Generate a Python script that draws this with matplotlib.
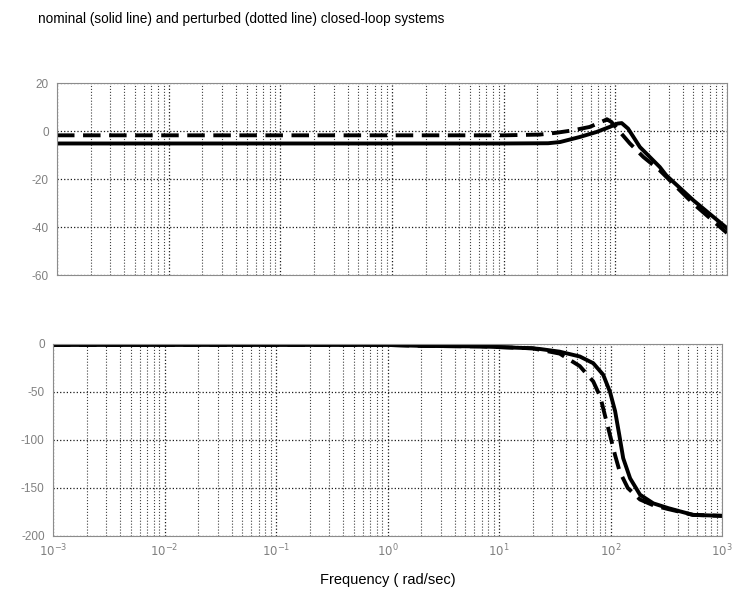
import numpy as np
import matplotlib
matplotlib.use("Agg")
import matplotlib.pyplot as plt
from matplotlib.ticker import LogLocator, NullFormatter

plt.rcParams['font.family'] = ['Liberation Sans', 'DejaVu Sans']
plt.rcParams['axes.unicode_minus'] = False

# ---- data ----
mag_nom_w = [1e-3, 1e-1, 10, 25, 32, 48, 68, 89, 105, 114, 130, 166, 250, 286, 500, 1000]
mag_nom_db = [-5.2, -5.2, -5.2, -5.1, -4.6, -2.5, -0.4, 1.7, 3.1, 3.3, 1.0, -6.7, -15.0, -18.5, -28.9, -40.5]

mag_pert_w = [1e-3, 1e-1, 10, 21, 30, 42, 59, 81, 84, 92, 110, 135, 178, 250, 500, 1000]
mag_pert_db = [-1.8, -1.8, -1.8, -1.5, -0.7, 0.3, 1.7, 4.5, 4.9, 3.8, -0.4, -5.2, -10.8, -16.4, -30.3, -42.5]

ph_nom_w = [1e-3, 1, 2.1, 6.8, 20, 23.3, 35, 53, 70, 86, 99, 110, 120, 130, 150, 184, 242, 330, 550, 1000]
ph_nom_deg = [-1, -1, -2, -2.5, -4.5, -5.2, -8, -13, -20, -32, -50, -70, -95, -119, -140, -157, -166, -171, -178, -179]

ph_pert_w = [1e-3, 1, 2.1, 6.8, 20, 35, 53, 70, 81, 89, 99, 110, 121, 143, 184, 242, 330, 550, 1000]
ph_pert_deg = [-1, -1, -2, -2.5, -4.5, -10, -23, -39, -55, -74, -95, -116, -133, -150, -162, -168, -172, -178, -179]

mag_ticks = [20, 0, -20, -40, -60]
ph_ticks = [0, -50, -100, -150, -200]
freq_ticks = [1e-3, 1e-2, 1e-1, 1e0, 1e1, 1e2, 1e3]
freq_labels = [r'$10^{-3}$', r'$10^{-2}$', r'$10^{-1}$', r'$10^{0}$', r'$10^{1}$', r'$10^{2}$', r'$10^{3}$']

title = 'nominal (solid line) and perturbed (dotted line) closed-loop systems'
xlabel = 'Frequency ( rad/sec)'

# ---- figure ----
fig = plt.figure(figsize=(7.35, 5.95), dpi=100)
W, H = 735, 595
ax1 = fig.add_axes([57 / W, 1 - 275 / H, (727 - 57) / W, (275 - 83) / H])
ax2 = fig.add_axes([53 / W, 1 - 536 / H, (722 - 53) / W, (536 - 344) / H])

lw = 2.8
tick_col = '#808080'

def style(ax):
    ax.set_xscale('log')
    ax.set_xlim(1e-3, 1e3)
    ax.xaxis.set_major_locator(LogLocator(base=10, numticks=20))
    ax.xaxis.set_minor_locator(LogLocator(base=10, subs=np.arange(2, 10), numticks=100))
    ax.xaxis.set_minor_formatter(NullFormatter())
    ax.grid(True, which='major', linestyle=':', color='0.1', linewidth=0.9)
    ax.grid(True, which='minor', axis='x', linestyle=':', color='0.25', linewidth=0.8)
    for s in ax.spines.values():
        s.set_color('0.55')
        s.set_linewidth(0.8)
    ax.tick_params(which='both', length=0, colors=tick_col, labelsize=8.5, pad=6)

# magnitude
ax1.plot(mag_nom_w, mag_nom_db, color='black', lw=lw, solid_joinstyle='round')
ax1.plot(mag_pert_w, mag_pert_db, color='black', lw=lw, dashes=(4.5, 2.2))
style(ax1)
ax1.set_ylim(-60, 20)
ax1.set_yticks(mag_ticks)
ax1.tick_params(axis='x', labelbottom=False)

# phase
ax2.plot(ph_nom_w, ph_nom_deg, color='black', lw=lw, solid_joinstyle='round')
ax2.plot(ph_pert_w, ph_pert_deg, color='black', lw=lw, dashes=(4.5, 2.2))
style(ax2)
ax2.set_ylim(-200, 0)
ax2.set_yticks(ph_ticks)
ax2.set_xticks(freq_ticks)
ax2.set_xticklabels(freq_labels)
ax2.tick_params(axis='x', pad=5)

fig.text(38 / W, 1 - 19 / H, title, fontsize=9.8, ha='left', va='center', color='black')
fig.text(388 / W, 1 - 580 / H, xlabel, fontsize=10.5, ha='center', va='center', color='black')

fig.savefig('out.png', dpi=100, facecolor='white')
